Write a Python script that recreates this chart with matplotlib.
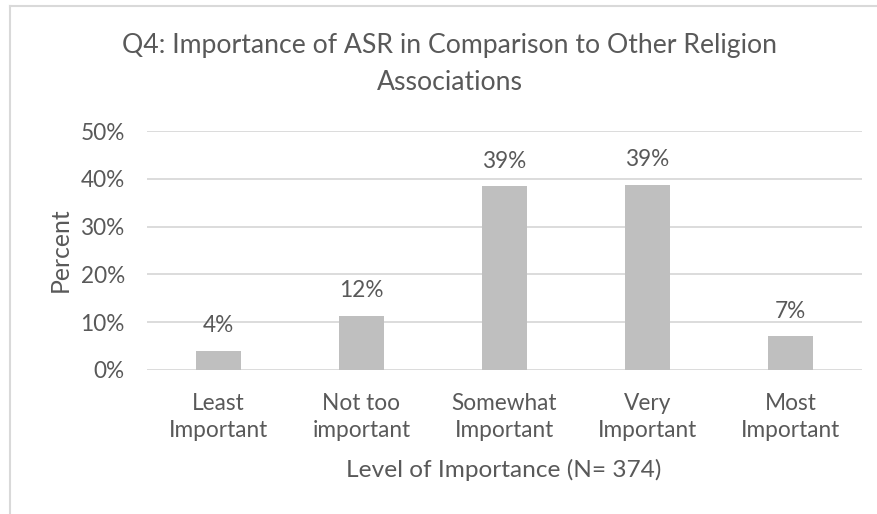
import matplotlib
matplotlib.use("Agg")
import matplotlib.pyplot as plt
from matplotlib.lines import Line2D
from matplotlib.ticker import FuncFormatter, MultipleLocator

categories = ["Least\nImportant", "Not too\nimportant", "Somewhat\nImportant",
              "Very\nImportant", "Most\nImportant"]
values = [4.0, 11.4, 38.4, 38.8, 7.1]
labels = ["4%", "12%", "39%", "39%", "7%"]

title = "Q4: Importance of ASR in Comparison to Other Religion\nAssociations"
xlabel = "Level of Importance (N= 374)"
ylabel = "Percent"

TEXT = "#595959"
GRID = "#D9D9D9"
BAR = "#BFBFBF"
FONT = ["Lato", "DejaVu Sans"]
plt.rcParams["font.family"] = FONT

W, H = 878, 514
fig = plt.figure(figsize=(W / 100, H / 100), dpi=100)
fig.patch.set_facecolor("white")

ax = fig.add_axes([147 / W, 1 - 370 / H, 715 / W, 239 / H])
x = list(range(len(categories)))
ax.bar(x, values, width=0.31, color=BAR, zorder=3)
ax.set_xlim(-0.5, len(categories) - 0.5)
ax.set_ylim(0, 50)
ax.yaxis.set_major_locator(MultipleLocator(10))
ax.yaxis.set_major_formatter(FuncFormatter(lambda v, p: f"{v:.0f}%"))
ax.grid(axis="y", color=GRID, linewidth=1.3, zorder=0)
for s in ax.spines.values():
    s.set_visible(False)
ax.tick_params(axis="both", length=0, labelsize=16.3, colors=TEXT)
ax.tick_params(axis="y", pad=16)
ax.tick_params(axis="x", pad=16.5)
ax.set_xticks(x)
ax.set_xticklabels(categories, linespacing=1.35)

for xi, v, lab in zip(x, values, labels):
    ax.annotate(lab, (xi, v), xytext=(0, 18), textcoords="offset points",
                ha="center", va="center", fontsize=16.3, color=TEXT)

fig.text(504 / W, 1 - 470 / H, xlabel, ha="center", va="center",
         fontsize=17.6, color=TEXT)
fig.text(60 / W, 1 - 250 / H, ylabel, ha="center", va="center",
         rotation=90, fontsize=17.8, color=TEXT)
fig.text(450 / W, 1 - 64 / H, title, ha="center", va="center",
         fontsize=19.2, color=TEXT, linespacing=1.62)

# chart frame (top and left edges visible)
fig.add_artist(Line2D([10 / W, 1], [1 - 6 / H, 1 - 6 / H], color=GRID,
                      linewidth=1.5, transform=fig.transFigure))
fig.add_artist(Line2D([10 / W, 10 / W], [0, 1 - 6 / H], color=GRID,
                      linewidth=1.5, transform=fig.transFigure))

fig.savefig("out.png", dpi=100)
